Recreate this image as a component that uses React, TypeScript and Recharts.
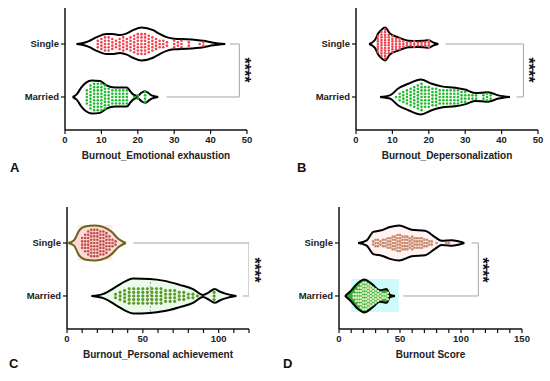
import React from 'react';
import { ScatterChart, Scatter, XAxis, YAxis, ReferenceArea } from 'recharts';

// category positions on the vertical value axis
const MARRIED = 1;
const SINGLE = 2;
const yDomain = [0.377, 2.679];

// violin outlines: [score, half width in category units]
const emoSingleViolin = [[3.2, 0], [5, 0.02], [6.4, 0.05], [8.7, 0.13], [11.4, 0.19], [13, 0.19], [15.1, 0.17], [17, 0.2], [18.7, 0.26], [21, 0.31], [24.2, 0.26], [26, 0.19], [27.9, 0.13], [30, 0.1], [33.4, 0.09], [38, 0.06], [40.7, 0.025], [44, 0]];
const emoMarriedViolin = [[2.1, 0], [3.2, 0.05], [4.5, 0.18], [5.8, 0.27], [7.3, 0.31], [9.6, 0.3], [11.4, 0.22], [13.7, 0.18], [17, 0.18], [18, 0.1], [18.8, 0.045], [19.9, 0.02], [21, 0.08], [22, 0.11], [23, 0.07], [23.8, 0.03], [25.6, 0]];
const depSingleViolin = [[3.6, 0], [5.2, 0.075], [6.1, 0.2], [7, 0.27], [8, 0.31], [9.3, 0.2], [11.6, 0.125], [14.4, 0.062], [17.1, 0.057], [18.5, 0.06], [19.9, 0.075], [21.3, 0.025], [22.6, 0]];
const depMarriedViolin = [[6.6, 0], [9.3, 0.03], [11.6, 0.16], [14.4, 0.25], [17.8, 0.33], [20.8, 0.25], [23.5, 0.2], [27.2, 0.175], [29.9, 0.14], [32.7, 0.075], [34.5, 0.08], [36.3, 0.09], [39.1, 0.03], [42.3, 0]];
const paSingleViolin = [[0.9, 0], [4.6, 0.05], [8.1, 0.24], [11.8, 0.31], [18.4, 0.33], [25, 0.29], [29.4, 0.21], [33.8, 0.08], [38.8, 0]];
const paMarriedViolin = [[16.2, 0], [23.9, 0.04], [32.7, 0.18], [38, 0.27], [43.6, 0.33], [54.6, 0.32], [63.4, 0.29], [74.3, 0.21], [83.1, 0.13], [89.7, 0.02], [93.5, 0.07], [97.4, 0.13], [101, 0.08], [105, 0.04], [111.6, 0]];
const scoreSingleViolin = [[15.8, 0], [22.7, 0.05], [28.1, 0.21], [35, 0.24], [41.8, 0.3], [49.2, 0.33], [59.6, 0.25], [70.5, 0.23], [78.7, 0.11], [84.2, 0.04], [88, 0.045], [92.4, 0.05], [102.7, 0]];
const scoreMarriedViolin = [[4.9, 0], [9, 0.08], [15.3, 0.24], [20.8, 0.31], [26.8, 0.23], [33.6, 0.11], [39.1, 0.13], [41.8, 0.02], [45.9, 0]];

// individual respondents: [score, number of respondents]
const emoSingle = [[9, 3], [10, 4], [11, 5], [12, 5], [13, 4], [14, 3], [15, 4], [16, 5], [17, 4], [18, 5], [19, 6], [20, 7], [21, 7], [22, 7], [23, 6], [24, 5], [25, 4], [26, 3], [27, 3], [28, 2], [30, 3], [31, 2], [32, 3], [34, 2], [37, 1], [38, 2]];
const emoMarried = [[6, 5], [7, 8], [8, 9], [9, 9], [10, 9], [11, 8], [12, 6], [13, 5], [14, 5], [15, 5], [16, 5], [17, 5], [19, 1], [20, 2], [22, 4]];
const depSingle = [[6, 7], [7, 10], [8, 12], [9, 8], [10, 7], [11, 5], [12, 5], [13, 3], [14, 2], [15, 2], [16, 3], [17, 2], [18, 2], [19, 2], [20, 4]];
const depMarried = [[11, 1], [12, 3], [13, 4], [14, 5], [15, 6], [16, 7], [17, 8], [18, 9], [19, 7], [20, 7], [21, 6], [22, 6], [23, 5], [24, 5], [25, 5], [26, 5], [27, 5], [28, 5], [29, 4], [30, 4], [31, 2], [32, 2], [33, 2], [35, 2], [36, 3], [37, 2]];
const paSingle = [[10, 4], [12, 6], [14, 8], [16, 9], [18, 9], [20, 9], [22, 8], [24, 8], [26, 7], [28, 5], [30, 3], [32, 2]];
const paMarried = [[32, 2], [35, 3], [38, 4], [41, 5], [44, 5], [47, 5], [50, 5], [53, 5], [56, 5], [59, 5], [62, 5], [65, 4], [68, 4], [71, 4], [74, 3], [77, 3], [80, 2], [83, 2], [86, 1], [97, 3]];
const scoreSingle = [[28, 2], [30, 3], [32, 3], [34, 2], [36, 3], [38, 3], [40, 4], [42, 4], [44, 5], [46, 5], [48, 6], [50, 6], [52, 5], [54, 5], [56, 5], [58, 4], [60, 5], [62, 4], [64, 4], [66, 4], [68, 4], [70, 3], [72, 3], [74, 2], [76, 2], [80, 1], [88, 1], [90, 1]];
const scoreMarried = [[12, 2], [14, 4], [16, 6], [18, 8], [20, 9], [22, 9], [24, 8], [26, 7], [28, 6], [30, 5], [32, 4], [34, 3], [36, 2], [38, 2], [40, 3]];

// significance brackets: [single line start, married line start, bracket x]
const emoBracket = [45.3, 27.9, 47.9];
const depBracket = [24.5, 44.1, 46];
const paBracket = [43.6, 116, 120];
const scoreBracket = [108.7, 52.7, 114.2];

const ticks50 = [0, 10, 20, 30, 40, 50];
const ticks120 = [0, 10, 20, 30, 40, 50, 60, 70, 80, 90, 100, 110, 120];
const ticks150 = [0, 10, 20, 30, 40, 50, 60, 70, 80, 90, 100, 110, 120, 130, 140, 150];

// one half of a violin; the path closes along the centre line
const violinHalf = (outline: number[][], center: number, sign: number) =>
  outline.map(([x, w]) => ({ x, y: center + sign * w }));

const swarm = (counts: number[][], center: number, step = 0.062) =>
  counts.flatMap(([x, n]) =>
    Array.from({ length: n }, (_, i) => ({ x, y: center + (i - (n - 1) / 2) * step }))
  );

const bracketPoints = ([s, m, bx]: number[]) => [
  { x: s, y: SINGLE },
  { x: bx, y: SINGLE },
  { x: bx, y: MARRIED },
  { x: m, y: MARRIED },
];

const font = "'Liberation Sans', Arial, sans-serif";
const Hidden = () => <g />;

interface ViolinSpec {
  outline: number[][];
  counts: number[][];
  center: number;
  fill: string;
  stroke: string;
  dot: string;
  dotStroke?: string;
  step?: number;
}

interface PanelProps {
  left: number;
  top: number;
  height: number;
  margin: { top: number; right: number; left: number; bottom: number };
  yWidth: number;
  max: number;
  ticks: number[];
  title: string;
  violins: ViolinSpec[];
  bracket: number[];
  stars: { x: number; y: number };
  letter: { x: number; y: number; text: string };
  areas?: { x1: number; x2: number; y1: number; y2: number; fill: string }[];
  median?: { x: number; center: number; w: number };
}

const Panel: React.FC<PanelProps> = (p) => {
  const xHeight = p.height - p.margin.top - p.margin.bottom - 122;
  return (
    <div style={{ position: 'absolute', left: p.left, top: p.top, width: 275, height: p.height }}>
      <ScatterChart width={275} height={p.height} margin={p.margin}>
        <XAxis
          type="number"
          dataKey="x"
          domain={[0, p.max]}
          ticks={p.ticks}
          interval={0}
          allowDataOverflow
          tickFormatter={(v: number) => (p.max > 50 && v % 50 !== 0 ? '' : String(v))}
          tick={{ fontSize: 9.5, fontWeight: 'bold', fill: '#222', fontFamily: font }}
          tickSize={4}
          tickMargin={2}
          height={xHeight}
          axisLine={{ stroke: '#111', strokeWidth: 1.5 }}
          tickLine={{ stroke: '#111', strokeWidth: 1.2 }}
          label={{
            value: p.title,
            position: 'insideTop',
            offset: 22,
            style: { fontSize: 10, fontWeight: 'bold', fill: '#222', fontFamily: font },
          }}
        />
        <YAxis
          type="number"
          dataKey="y"
          domain={yDomain}
          ticks={[MARRIED, SINGLE]}
          allowDataOverflow
          tickFormatter={(v: number) => (v === SINGLE ? 'Single' : 'Married')}
          tick={{ fontSize: 9.5, fontWeight: 'bold', fill: '#222', fontFamily: font }}
          tickSize={4}
          tickMargin={2}
          width={p.yWidth}
          axisLine={{ stroke: '#111', strokeWidth: 1.5 }}
          tickLine={{ stroke: '#111', strokeWidth: 1.2 }}
        />
        {(p.areas || []).map((a, i) => (
          <ReferenceArea key={i} x1={a.x1} x2={a.x2} y1={a.y1} y2={a.y2} fill={a.fill} fillOpacity={1} stroke="none" />
        ))}
        <Scatter
          data={bracketPoints(p.bracket)}
          line={{ stroke: '#a6a6a6', strokeWidth: 1 }}
          shape={Hidden}
          isAnimationActive={false}
        />
        {p.violins.flatMap((v, i) =>
          [1, -1].map((sign) => (
            <Scatter
              key={'v' + i + sign}
              data={violinHalf(v.outline, v.center, sign)}
              line={{ stroke: v.stroke, strokeWidth: 2, fill: v.fill }}
              lineJointType="monotoneX"
              shape={Hidden}
              isAnimationActive={false}
            />
          ))
        )}
        {p.median && (
          <Scatter
            data={[
              { x: p.median.x, y: p.median.center - p.median.w },
              { x: p.median.x, y: p.median.center + p.median.w },
            ]}
            line={{ stroke: '#9a9a9a', strokeWidth: 1, strokeDasharray: '2 2' }}
            shape={Hidden}
            isAnimationActive={false}
          />
        )}
        {p.violins.map((v, i) => (
          <Scatter
            key={'d' + i}
            data={swarm(v.counts, v.center, v.step)}
            shape={(s: any) => (
              <circle cx={s.cx} cy={s.cy} r={1.3} fill={v.dot} stroke={v.dotStroke || 'none'} strokeWidth={0.5} />
            )}
            isAnimationActive={false}
          />
        ))}
      </ScatterChart>
      <div
        style={{
          position: 'absolute',
          left: p.stars.x - 20,
          top: p.stars.y - 10,
          width: 40,
          height: 20,
          lineHeight: '20px',
          textAlign: 'center',
          transform: 'rotate(90deg)',
          fontSize: 16,
          fontWeight: 'bold',
          fontFamily: font,
          color: '#111',
        }}
      >
        ****
      </div>
      <div
        style={{
          position: 'absolute',
          left: p.letter.x,
          top: p.letter.y,
          fontSize: 13,
          fontWeight: 'bold',
          fontFamily: font,
          color: '#111',
          lineHeight: '14px',
        }}
      >
        {p.letter.text}
      </div>
    </div>
  );
};

const redDot = '#f0444f';
const greenDot = '#1fbd2c';

export default function App() {
  return (
    <div style={{ position: 'absolute', left: 0, top: 0, width: 550, height: 381, background: '#fff', fontFamily: font }}>
      <Panel
        left={0}
        top={0}
        height={190}
        margin={{ top: 8, right: 28, left: 0, bottom: 0 }}
        yWidth={65}
        max={50}
        ticks={ticks50}
        title="Burnout_Emotional exhaustion"
        bracket={emoBracket}
        stars={{ x: 244, y: 70 }}
        letter={{ x: 10, y: 161, text: 'A' }}
        violins={[
          { outline: emoSingleViolin, counts: emoSingle, center: SINGLE, fill: '#fff', stroke: '#000', dot: redDot },
          { outline: emoMarriedViolin, counts: emoMarried, center: MARRIED, fill: '#fff', stroke: '#000', dot: greenDot },
        ]}
      />
      <Panel
        left={275}
        top={0}
        height={190}
        margin={{ top: 8, right: 12, left: 0, bottom: 0 }}
        yWidth={81}
        max={50}
        ticks={ticks50}
        title="Burnout_Depersonalization"
        bracket={depBracket}
        stars={{ x: 253, y: 70 }}
        letter={{ x: 22, y: 161, text: 'B' }}
        violins={[
          { outline: depSingleViolin, counts: depSingle, center: SINGLE, fill: '#fff', stroke: '#000', dot: redDot, step: 0.05 },
          { outline: depMarriedViolin, counts: depMarried, center: MARRIED, fill: '#fff', stroke: '#000', dot: greenDot },
        ]}
      />
      <Panel
        left={0}
        top={190}
        height={191}
        margin={{ top: 17, right: 26, left: 0, bottom: 0 }}
        yWidth={67}
        max={120}
        ticks={ticks120}
        title="Burnout_Personal achievement"
        bracket={paBracket}
        stars={{ x: 254, y: 80 }}
        letter={{ x: 9, y: 167, text: 'C' }}
        areas={[{ x1: 7, x2: 30, y1: SINGLE - 0.33, y2: SINGLE + 0.34, fill: '#fdeaea' }]}
        median={{ x: 55, center: MARRIED, w: 0.3 }}
        violins={[
          { outline: paSingleViolin, counts: paSingle, center: SINGLE, fill: '#ffd9d9', stroke: '#6b6416', dot: '#c0524a' },
          { outline: paMarriedViolin, counts: paMarried, center: MARRIED, fill: '#eafbea', stroke: '#000', dot: '#3faa2a', dotStroke: '#6a7a1c', step: 0.068 },
        ]}
      />
      <Panel
        left={275}
        top={190}
        height={191}
        margin={{ top: 17, right: 28, left: 0, bottom: 0 }}
        yWidth={64}
        max={150}
        ticks={ticks150}
        title="Burnout Score"
        bracket={scoreBracket}
        stars={{ x: 207, y: 80 }}
        letter={{ x: 8, y: 167, text: 'D' }}
        areas={[{ x1: 10, x2: 49, y1: MARRIED - 0.3, y2: MARRIED + 0.32, fill: '#cdfafa' }]}
        violins={[
          { outline: scoreSingleViolin, counts: scoreSingle, center: SINGLE, fill: '#fff3f3', stroke: '#000', dot: '#c98a6e', step: 0.06 },
          { outline: scoreMarriedViolin, counts: scoreMarried, center: MARRIED, fill: '#2fae2f', stroke: '#000', dot: '#dfeec2' },
        ]}
      />
    </div>
  );
}
